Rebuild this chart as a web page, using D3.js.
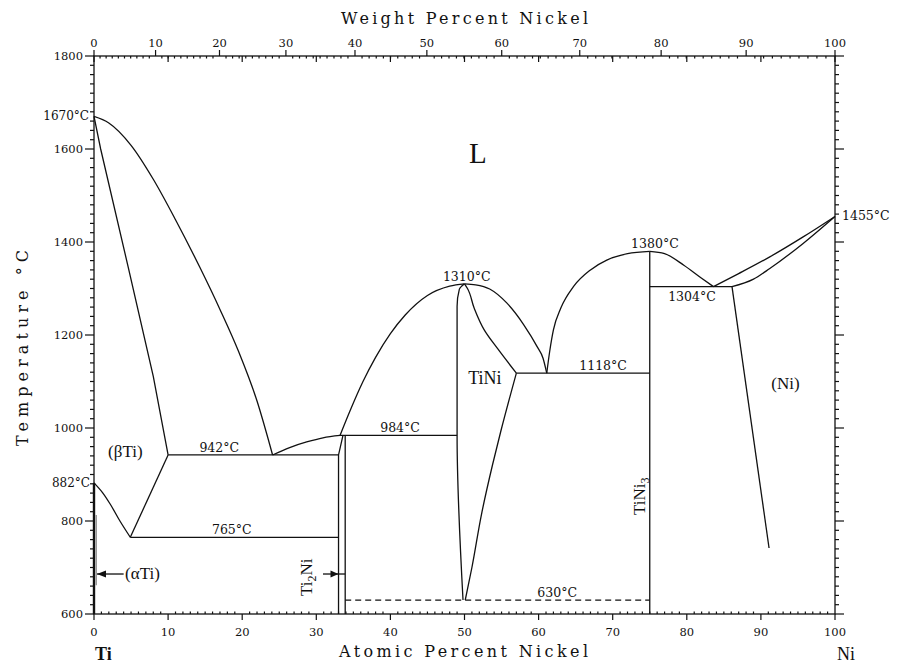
<!DOCTYPE html>
<html><head><meta charset="utf-8">
<script src="https://cdn.jsdelivr.net/npm/d3@7/dist/d3.min.js"></script>
<style>body{margin:0;background:#fff}svg{display:block}</style>
</head><body>
<svg id="chart" width="904" height="664"></svg>
<script>
// ---------- data (atomic % Ni, temperature °C) ----------
const atomicTicks = [0,10,20,30,40,50,60,70,80,90,100];
const weightTicks = [0,10,20,30,40,50,60,70,80,90,100];
const tempTicks = [600,800,1000,1200,1400,1600,1800];
const massTi = 47.867, massNi = 58.693;

// curves (drawn smooth, monotone in x)
const tiLiquidus   = [[0,1670],[2,1656],[5,1608],[8,1535],[11,1448],[14.3,1345],[17,1255],[19.5,1165],[22,1058],[24.1,942]];
const betaTransus  = [[0,882],[1.2,860],[2.2,836],[3.5,800],[4.9,765]];
const liqTi2Ni     = [[24.1,942],[26.4,958],[28.7,970],[30.9,979],[33.2,984]];
const tiNiLiqL     = [[33.2,984],[34.5,1035],[36.3,1100],[38,1152],[40,1203],[42,1243],[45,1285],[48,1305],[50,1310]];
const tiNiLiqR     = [[50,1310],[51.5,1308],[53.4,1299],[55.7,1269],[58.0,1222],[59.8,1175],[60.6,1150],[61.1,1118]];
const tiNi3LiqL    = [[61.1,1118],[61.5,1165],[62,1211],[63,1258],[64.7,1304],[67,1340],[69.2,1361],[72,1375],[75,1380]];
const tiNi3LiqR    = [[75,1380],[77,1375],[79.6,1350],[82,1322],[83.6,1304]];
const niLiquidus   = [[83.6,1304],[87,1332],[91.2,1368],[95.7,1411],[100,1455]];
const niSolidus    = [[86.1,1304],[89,1320],[91.2,1343],[95.7,1397],[100,1455]];
// curves (drawn smooth, monotone in temperature)
const tiNiLeft     = [[49.8,630],[49.0,984],[49.0,1262],[49.3,1298],[50,1310]];
const tiNiRightLow = [[50.1,630],[51,700],[52.3,815],[53.8,922],[54.9,993],[57,1118]];
const tiNiRightHi  = [[57,1118],[54.5,1170],[52.7,1210],[51.3,1258],[50.4,1300],[50,1310]];
// straight boundaries
const betaSolidus  = [[0,1670],[0.9,1600],[4.6,1347],[8,1111],[10,942]];
const alphaBeta    = [[4.9,765],[10,942]];
const eut942       = [[10,942],[33,942]];
const eut765       = [[4.9,765],[33,765]];
const ti2NiLeft    = [[33,600],[33,942],[33.6,984]];
const ti2NiRight   = [[33.9,600],[33.9,984]];
const per984       = [[33.2,984],[49.0,984]];
const eut1118      = [[57,1118],[75,1118]];
const tiNi3Line    = [[75,600],[75,1380]];
const eut1304      = [[75,1304],[86.1,1304]];
const niSolvus     = [[86.1,1304],[91.1,742]];
const dash630      = [[33.9,630],[75,630]];

const curvesX  = [tiLiquidus, betaTransus, liqTi2Ni, tiNiLiqL, tiNiLiqR, tiNi3LiqL, tiNi3LiqR, niLiquidus, niSolidus];
const curvesY  = [tiNiLeft, tiNiRightLow, tiNiRightHi];
const straight = [betaSolidus, alphaBeta, eut942, eut765, ti2NiLeft, ti2NiRight, per984, eut1118, tiNi3Line, eut1304, niSolvus];

const tempLabels = [
  {t:"942°C", a:16.9, T:942},{t:"765°C", a:18.6, T:765},{t:"984°C", a:41.3, T:984},
  {t:"1310°C", a:50.3, T:1310},{t:"1380°C", a:75.7, T:1380},{t:"1118°C", a:68.7, T:1118},
  {t:"630°C", a:62.5, T:630}
];

// ---------- scales ----------
const svg = d3.select("#chart");
const x = d3.scaleLinear().domain([0,100]).range([94,835]);
const y = d3.scaleLinear().domain([600,1800]).range([614,56]);
const wtToAt = w => 100*(w/massNi)/((w/massNi)+((100-w)/massTi));
const ink = "#111";

// ---------- frame & ticks ----------
const g = svg.append("g");
g.append("rect").attr("x",x(0)).attr("y",y(1800)).attr("width",x(100)-x(0)).attr("height",y(600)-y(1800))
 .attr("fill","none").attr("stroke",ink).attr("stroke-width",1.3);

const minorT = d3.range(600,1801,20);
g.selectAll(".lt").data(minorT).join("line")
 .attr("x1",d=>x(0)-(d%200===0?9:4)).attr("x2",x(0)).attr("y1",d=>y(d)).attr("y2",d=>y(d))
 .attr("stroke",ink).attr("stroke-width",1.2);
g.selectAll(".rt").data(minorT).join("line")
 .attr("x1",x(100)).attr("x2",d=>x(100)+(d%200===0?9:4)).attr("y1",d=>y(d)).attr("y2",d=>y(d))
 .attr("stroke",ink).attr("stroke-width",1.2);
const minorA = d3.range(0,101,1);
g.selectAll(".bt").data(minorA).join("line")
 .attr("x1",d=>x(d)).attr("x2",d=>x(d))
 .attr("y1",d=>d%10===0?y(600)+6:y(600)).attr("y2",d=>d%10===0?y(600):y(600)-2.5)
 .attr("stroke",ink).attr("stroke-width",1.2);
g.selectAll(".ta").data(atomicTicks).join("line")
 .attr("x1",d=>x(d)).attr("x2",d=>x(d)).attr("y1",y(1800)).attr("y2",y(1800)+6)
 .attr("stroke",ink).attr("stroke-width",1.2);
const minorW = d3.range(0,101,1);
g.selectAll(".tw").data(minorW).join("line")
 .attr("x1",d=>x(wtToAt(d))).attr("x2",d=>x(wtToAt(d)))
 .attr("y1",d=>d%10===0?y(1800)-6:y(1800)).attr("y2",d=>d%10===0?y(1800):y(1800)+2.5)
 .attr("stroke",ink).attr("stroke-width",1.2);

const tf = "'DejaVu Serif', serif";
g.selectAll(".tl").data(tempTicks).join("text")
 .attr("x",x(0)-11).attr("y",d=>y(d)+4).attr("text-anchor","end")
 .attr("font-family",tf).attr("font-size",11.5).attr("fill",ink).text(d=>d);
g.selectAll(".bl").data(atomicTicks).join("text")
 .attr("x",d=>x(d)).attr("y",y(600)+22).attr("text-anchor","middle")
 .attr("font-family",tf).attr("font-size",11.5).attr("fill",ink).text(d=>d);
g.selectAll(".wl").data(weightTicks).join("text")
 .attr("x",d=>x(wtToAt(d))).attr("y",y(1800)-9).attr("text-anchor","middle")
 .attr("font-family",tf).attr("font-size",11.5).attr("fill",ink).text(d=>d);

// axis titles
const titleFont = "'DejaVu Serif', serif";
svg.append("text").attr("x",341).attr("y",24).attr("font-family",titleFont).attr("font-size",16)
 .attr("textLength",247).attr("lengthAdjust","spacing").attr("fill",ink).text("Weight Percent Nickel");
svg.append("text").attr("x",339).attr("y",657).attr("font-family",titleFont).attr("font-size",16)
 .attr("textLength",249).attr("lengthAdjust","spacing").attr("fill",ink).text("Atomic Percent Nickel");
svg.append("text").attr("transform","translate(28,446) rotate(-90)").attr("font-family",titleFont).attr("font-size",16)
 .attr("textLength",196).attr("lengthAdjust","spacing").attr("fill",ink).text("Temperature °C");
svg.append("text").attr("x",95).attr("y",660).attr("font-family","'Liberation Serif', serif").attr("font-size",18)
 .attr("font-weight","bold").attr("fill",ink).text("Ti");
svg.append("text").attr("x",837).attr("y",660).attr("font-family","'Liberation Serif', serif").attr("font-size",18)
 .attr("fill",ink).text("Ni");

// ---------- phase boundaries ----------
const lineX = d3.line().x(d=>x(d[0])).y(d=>y(d[1])).curve(d3.curveMonotoneX);
const lineY = d3.line().x(d=>x(d[0])).y(d=>y(d[1])).curve(d3.curveMonotoneY);
const lineS = d3.line().x(d=>x(d[0])).y(d=>y(d[1]));
const pg = svg.append("g").attr("fill","none").attr("stroke",ink).attr("stroke-width",1.3);
pg.selectAll(".cx").data(curvesX).join("path").attr("d",lineX);
pg.selectAll(".cy").data(curvesY).join("path").attr("d",d=>lineY(d.slice().sort((p,q)=>q[1]-p[1])));
pg.selectAll(".s").data(straight).join("path").attr("d",lineS);
pg.append("path").datum(dash630).attr("d",lineS).attr("stroke-dasharray","6,4");

// alpha Ti region along Ti axis
svg.append("line").attr("x1",x(0)).attr("x2",x(0)).attr("y1",y(600)).attr("y2",y(882))
 .attr("stroke",ink).attr("stroke-width",2.4);
svg.append("line").attr("x1",x(0)+2.2).attr("x2",x(0)+2.2).attr("y1",y(662)).attr("y2",y(813))
 .attr("stroke","#999").attr("stroke-width",1.6);

// ---------- labels ----------
const lf = "'DejaVu Serif', serif";
svg.selectAll(".tlab").data(tempLabels).join("text")
 .attr("x",d=>x(d.a)).attr("y",d=>y(d.T)-3).attr("text-anchor","middle")
 .attr("font-family",lf).attr("font-size",12.5).attr("fill",ink).text(d=>d.t);
svg.append("text").attr("x",x(80.7)).attr("y",y(1304)+14).attr("text-anchor","middle")
 .attr("font-family",lf).attr("font-size",12.5).attr("fill",ink).text("1304°C");
svg.append("text").attr("x",x(100)+7).attr("y",y(1455)+4)
 .attr("font-family",lf).attr("font-size",12.5).attr("fill",ink).text("1455°C");
svg.append("text").attr("x",x(0)-5).attr("y",y(1670)+4).attr("text-anchor","end")
 .attr("font-family",lf).attr("font-size",12).attr("fill",ink).text("1670°C");
svg.append("text").attr("x",x(0)-4).attr("y",y(882)+4).attr("text-anchor","end")
 .attr("font-family",lf).attr("font-size",12).attr("fill",ink).text("882°C");

const sf = "'Liberation Serif', serif";
svg.append("text").attr("x",x(50.6)).attr("y",y(1570)).attr("font-family",sf).attr("font-size",29).attr("fill",ink).text("L");
svg.append("text").attr("x",x(1.9)).attr("y",y(938)).attr("font-family",sf).attr("font-size",17).attr("fill",ink).text("(βTi)");
svg.append("text").attr("x",x(50.5)).attr("y",y(1095)).attr("font-family",sf).attr("font-size",18).attr("fill",ink).text("TiNi");
svg.append("text").attr("x",x(91.4)).attr("y",y(1084)).attr("font-family",sf).attr("font-size",17).attr("fill",ink).text("(Ni)");
svg.append("text").attr("x",x(4.2)).attr("y",y(686)+5).attr("font-family",sf).attr("font-size",17).attr("fill",ink).text("(αTi)");

// arrows
svg.append("line").attr("x1",x(0)+3).attr("x2",x(4.0)).attr("y1",y(686)).attr("y2",y(686)).attr("stroke",ink).attr("stroke-width",1.3);
svg.append("path").attr("d",`M${x(0)+3},${y(686)} l9,-3.5 l0,7 z`).attr("fill",ink);
svg.append("line").attr("x1",x(30.9)).attr("x2",x(33.9)).attr("y1",y(686)).attr("y2",y(686)).attr("stroke",ink).attr("stroke-width",1.3);
svg.append("path").attr("d",`M${x(33)},${y(686)} l-8,-3.5 l0,7 z`).attr("fill",ink);

// rotated compound labels
const ti2ni = svg.append("text").attr("transform",`translate(${x(29.4)},${y(686)+22}) rotate(-90)`)
 .attr("font-family",sf).attr("font-size",17).attr("fill",ink);
ti2ni.append("tspan").text("Ti");
ti2ni.append("tspan").attr("font-size",12).attr("dy",4).text("2");
ti2ni.append("tspan").attr("dy",-4).text("Ni");
const tini3 = svg.append("text").attr("transform",`translate(${x(75)-5},${y(813)}) rotate(-90)`)
 .attr("font-family",sf).attr("font-size",17).attr("fill",ink);
tini3.append("tspan").text("TiNi");
tini3.append("tspan").attr("font-size",12).attr("dy",4).text("3");
</script>
</body></html>
